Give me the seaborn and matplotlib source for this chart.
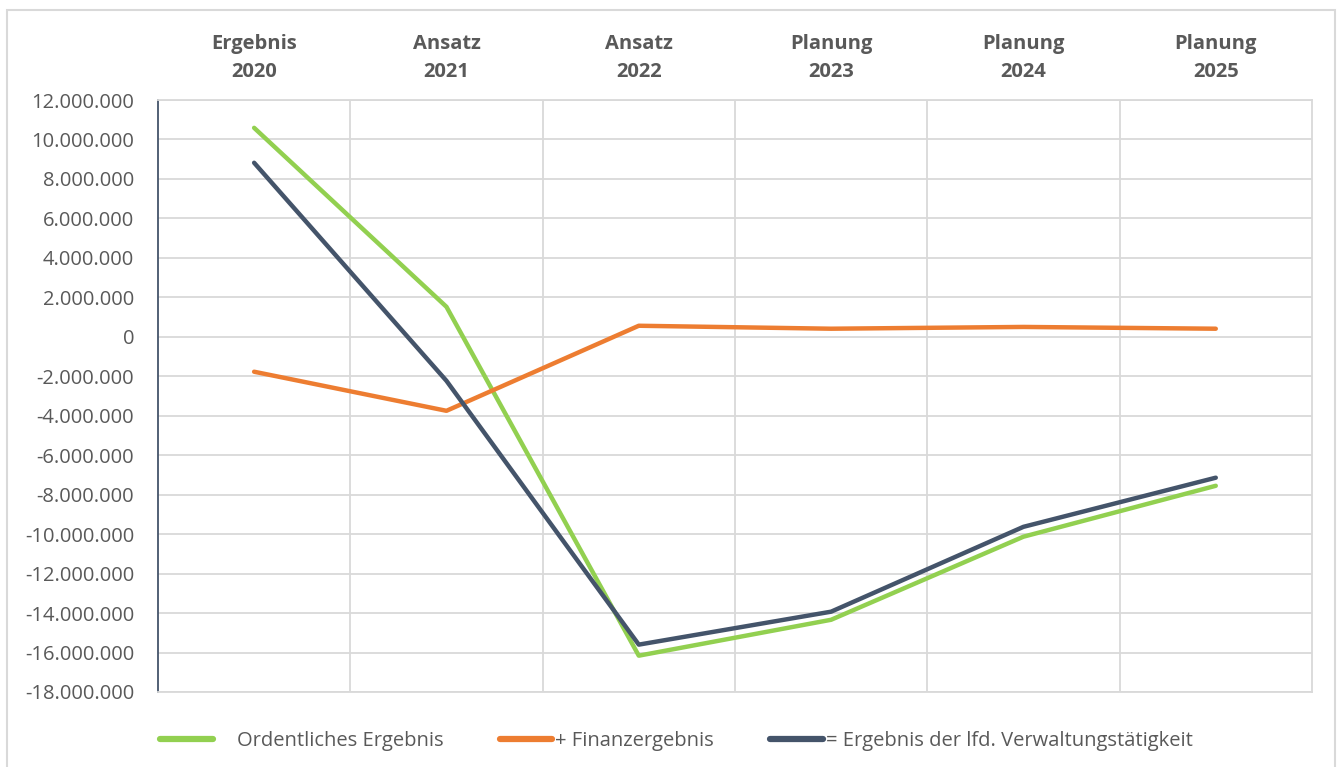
import pandas as pd
import seaborn as sns
import matplotlib.pyplot as plt
from matplotlib.ticker import FuncFormatter
from matplotlib.patches import Rectangle

# data
kategorien = ["Ergebnis\n2020", "Ansatz\n2021", "Ansatz\n2022",
              "Planung\n2023", "Planung\n2024", "Planung\n2025"]
ordentlich = [10590000, 1520000, -16160000, -14340000, -10130000, -7550000]
finanz = [-1770000, -3750000, 560000, 410000, 500000, 410000]
verwaltung = [8820000, -2230000, -15600000, -13930000, -9630000, -7140000]

serien = ["    Ordentliches Ergebnis", "+ Finanzergebnis",
          "= Ergebnis der lfd. Verwaltungstätigkeit"]
farben = ["#92D050", "#ED7D31", "#44546A"]

df = pd.DataFrame({
    "pos": list(range(6)) * 3,
    "wert": ordentlich + finanz + verwaltung,
    "serie": [serien[0]] * 6 + [serien[1]] * 6 + [serien[2]] * 6,
})

sns.set_theme(style="white")
plt.rcParams['font.family'] = ['Open Sans', 'DejaVu Sans']
textgrau = "#595959"
gitter = "#d9d9d9"

fig = plt.figure(figsize=(13.42, 7.67), dpi=100)
ax = fig.add_axes([0.1177, 0.0978, 0.8599, 0.7718])

sns.lineplot(data=df, x="pos", y="wert", hue="serie", hue_order=serien,
             palette=farben, linewidth=3.2, ax=ax, legend=False,
             solid_capstyle="round", solid_joinstyle="round")

ax.set_xlim(-0.5, 5.5)
ax.set_ylim(-18000000, 12000000)
ax.set_yticks(range(-18000000, 12000001, 2000000))
ax.yaxis.set_major_formatter(FuncFormatter(lambda v, p: f"{v:,.0f}".replace(",", ".")))

ax.set_xticks(range(6))
ax.set_xticklabels(kategorien, fontweight="bold", color=textgrau, fontsize=14.5,
                   linespacing=1.5)
ax.set_xticks([i + 0.5 for i in range(5)], minor=True)
ax.xaxis.tick_top()
ax.tick_params(axis="x", which="both", length=0, pad=13)
ax.tick_params(axis="y", length=0, pad=17, labelsize=14.5, labelcolor=textgrau)

ax.grid(False)
ax.grid(axis="y", which="major", color=gitter, linewidth=1.3)
ax.grid(axis="x", which="minor", color=gitter, linewidth=1.3)
ax.set_axisbelow(True)
for s in ["top", "right", "bottom"]:
    ax.spines[s].set_color(gitter)
    ax.spines[s].set_linewidth(1.3)
ax.spines["left"].set_color("#44546A")
ax.spines["left"].set_linewidth(1.3)
ax.set_xlabel("")
ax.set_ylabel("")

# legend at the bottom
handles = [plt.Line2D([], [], color=c, linewidth=4.5, solid_capstyle="round") for c in farben]
fig.legend(handles, serien, loc="center", bbox_to_anchor=(0.504, 0.034), ncol=3,
           frameon=False, fontsize=14.5, labelcolor=textgrau, handlelength=2.6,
           handletextpad=0.15, columnspacing=2.8)

# outer chart border
fig.patches.append(Rectangle((0.005, -0.01), 0.99, 0.997, transform=fig.transFigure,
                             fill=False, edgecolor=gitter, linewidth=1.5))

fig.savefig("out.png", dpi=100)
